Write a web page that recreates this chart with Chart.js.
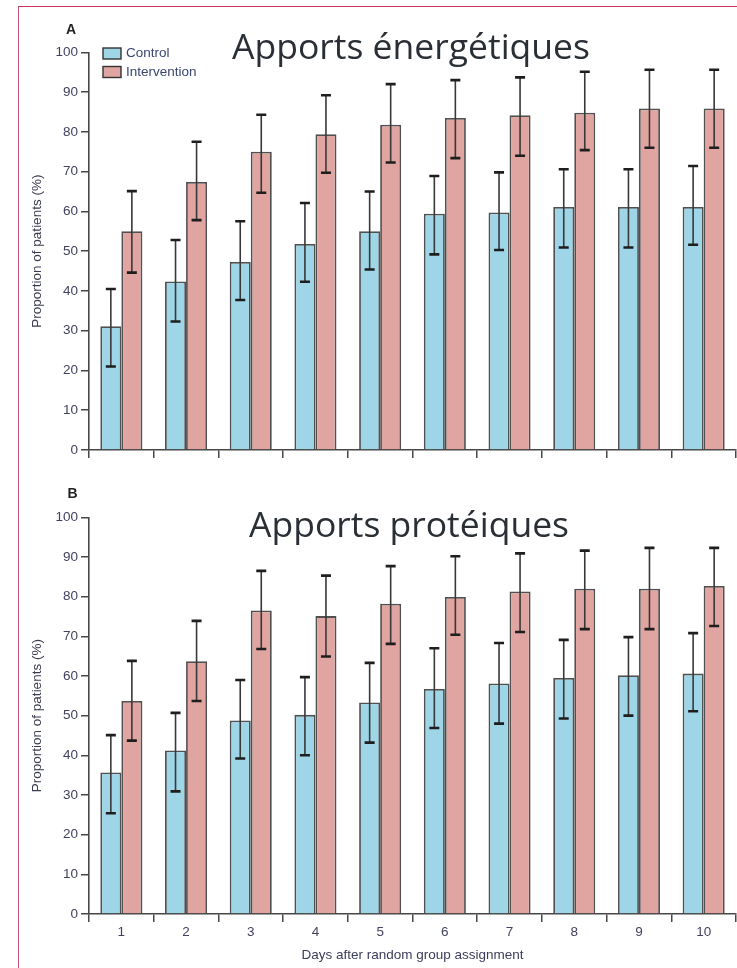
<!DOCTYPE html>
<html><head><meta charset="utf-8">
<script src="https://cdn.jsdelivr.net/npm/chart.js@4.4.1/dist/chart.umd.min.js"></script>
<style>
html,body{margin:0;padding:0;background:#fff;width:737px;height:968px;overflow:hidden;}
#wrap{position:relative;width:737px;height:968px;overflow:hidden;}
#frame{position:absolute;left:18px;top:6px;width:800px;height:1000px;border-top:1.5px solid #d0305c;border-left:1.5px solid #c9507c;}
canvas{position:absolute;left:0;}
#ca{top:0;}
#cb{top:470px;}
</style></head><body>
<div id="wrap">
<div id="frame"></div>
<canvas id="ca" width="737" height="470"></canvas>
<canvas id="cb" width="737" height="498"></canvas>
</div>
<script>
// ---- data ----
const days = ['1','2','3','4','5','6','7','8','9','10'];
const seriesNames = ['Control','Intervention'];
const yTicks = [0,10,20,30,40,50,60,70,80,90,100];

const energyControl   = [31.1, 42.4, 47.3, 51.8, 55.0, 59.4, 59.7, 61.1, 61.1, 61.1];
const energyControlHi = [40.5, 52.8, 57.5, 62.1, 65.0, 68.9, 69.8, 70.6, 70.6, 71.4];
const energyControlLo = [21.0, 32.3, 37.7, 42.3, 45.4, 49.2, 50.3, 50.9, 50.9, 51.6];
const energyInterv    = [55.0, 67.4, 75.0, 79.4, 81.8, 83.5, 84.2, 84.8, 85.9, 85.9];
const energyIntervHi  = [65.1, 77.5, 84.3, 89.2, 92.0, 93.0, 93.7, 95.1, 95.6, 95.6];
const energyIntervLo  = [44.6, 57.8, 64.7, 69.7, 72.3, 73.4, 74.0, 75.4, 76.0, 76.0];

const proteinControl   = [35.7, 41.2, 48.8, 50.2, 53.3, 56.7, 58.1, 59.5, 60.2, 60.6];
const proteinControlHi = [45.1, 50.7, 59.0, 59.7, 63.3, 67.0, 68.3, 69.1, 69.8, 70.8];
const proteinControlLo = [25.4, 30.9, 39.2, 40.0, 43.2, 46.9, 48.0, 49.3, 50.0, 51.1];
const proteinInterv    = [53.7, 63.7, 76.5, 75.1, 78.2, 79.9, 81.3, 82.0, 82.0, 82.7];
const proteinIntervHi  = [63.8, 73.9, 86.5, 85.3, 87.7, 90.2, 90.9, 91.6, 92.3, 92.3];
const proteinIntervLo  = [43.7, 53.7, 66.8, 64.9, 68.1, 70.4, 71.1, 71.8, 71.8, 72.6];

const titleA = 'Apports énergétiques';
const titleB = 'Apports protéiques';
const yTitle = 'Proportion of patients (%)';
const xTitle = 'Days after random group assignment';

// ---- styles ----
const C_CONTROL = '#9ed6e8';
const C_INTERV = '#e0a5a0';
const C_BORDER = '#505050';
const C_AXIS = '#474747';
const C_TICK = '#424260';
const FONT = '"Liberation Sans", Arial, sans-serif';

const errorBars = {
  id: 'errorBars',
  afterDatasetsDraw(chart) {
    const ctx = chart.ctx, ys = chart.scales.y;
    chart.data.datasets.forEach((ds, di) => {
      const meta = chart.getDatasetMeta(di);
      meta.data.forEach((bar, i) => {
        const x = bar.x;
        const yHi = ys.getPixelForValue(ds.errHi[i]);
        const yLo = ys.getPixelForValue(ds.errLo[i]);
        ctx.save();
        ctx.strokeStyle = '#383838'; ctx.lineWidth = 1.6;
        ctx.beginPath(); ctx.moveTo(x, yHi); ctx.lineTo(x, yLo); ctx.stroke();
        ctx.strokeStyle = '#1e1e1e'; ctx.lineWidth = 2.6;
        ctx.beginPath();
        ctx.moveTo(x - 5, yHi); ctx.lineTo(x + 5, yHi);
        ctx.moveTo(x - 5, yLo); ctx.lineTo(x + 5, yLo);
        ctx.stroke();
        ctx.restore();
      });
    });
  }
};

const decorations = {
  id: 'decorations',
  afterDraw(chart, args, opts) {
    const ctx = chart.ctx;
    ctx.save();
    ctx.fillStyle = '#2a2f36';
    ctx.font = '35.5px "Open Sans", "Noto Sans", sans-serif';
    ctx.textAlign = 'center'; ctx.textBaseline = 'alphabetic';
    ctx.fillText(opts.title, opts.titleX, opts.titleY);
    ctx.fillStyle = '#222';
    ctx.font = 'bold 14px ' + FONT;
    ctx.textAlign = 'left';
    ctx.fillText(opts.letter, opts.letterX, opts.letterY);
    if (opts.legend) {
      chart.data.datasets.forEach((ds, i) => {
        const y = 48 + i * 18.5;
        ctx.fillStyle = ds.backgroundColor;
        ctx.fillRect(103, y, 18, 11);
        ctx.strokeStyle = '#333'; ctx.lineWidth = 1.4;
        ctx.strokeRect(103, y, 18, 11);
        ctx.fillStyle = '#3a4670';
        ctx.font = '13.5px ' + FONT;
        ctx.textBaseline = 'middle';
        ctx.fillText(ds.label, 126, y + 5.5);
      });
    }
    ctx.restore();
  }
};

function makeChart(id, cfg) {
  return new Chart(document.getElementById(id), {
    type: 'bar',
    data: {
      labels: days,
      datasets: [
        { label: seriesNames[0], data: cfg.control, errHi: cfg.controlHi, errLo: cfg.controlLo,
          backgroundColor: C_CONTROL, borderColor: C_BORDER, borderWidth: 1.8,
          categoryPercentage: 0.65, barPercentage: 1.0 },
        { label: seriesNames[1], data: cfg.interv, errHi: cfg.intervHi, errLo: cfg.intervLo,
          backgroundColor: C_INTERV, borderColor: C_BORDER, borderWidth: 1.8,
          categoryPercentage: 0.65, barPercentage: 1.0 }
      ]
    },
    options: {
      responsive: false,
      animation: false,
      layout: { padding: { top: cfg.padTop, right: 1, left: 0, bottom: 0 } },
      plugins: {
        legend: { display: false },
        tooltip: { enabled: false },
        decorations: cfg.deco
      },
      scales: {
        x: {
          offset: true,
          grid: { display: true, offset: true, drawOnChartArea: false, drawTicks: true, tickLength: 8, color: C_AXIS, lineWidth: 1.5 },
          border: { display: true, color: C_AXIS, width: 1.6 },
          ticks: { display: cfg.showX, color: C_TICK, font: { family: FONT, size: 13.5 }, padding: 2, maxRotation: 0, autoSkip: false },
          title: { display: cfg.showX, text: xTitle, color: '#3a3c5a', font: { family: FONT, size: 13.5 }, padding: { top: 4, bottom: 5 } },
          afterFit: s => { s.height = cfg.xHeight; }
        },
        y: {
          min: 0, max: 100,
          afterBuildTicks: s => { s.ticks = yTicks.map(v => ({ value: v })); },
          grid: { display: true, drawOnChartArea: false, drawTicks: true, tickLength: 8, color: C_AXIS, lineWidth: 1.5 },
          border: { display: true, color: C_AXIS, width: 1.6 },
          ticks: { color: C_TICK, font: { family: FONT, size: 13.5 }, padding: 3 },
          title: { display: true, text: yTitle, color: '#3a3a52', font: { family: FONT, size: 13.5 }, padding: { top: 29.4, bottom: 0 } },
          afterFit: s => { s.width = 89; }
        }
      }
    },
    plugins: [errorBars, decorations]
  });
}

makeChart('ca', {
  control: energyControl, controlHi: energyControlHi, controlLo: energyControlLo,
  interv: energyInterv, intervHi: energyIntervHi, intervLo: energyIntervLo,
  padTop: 52.3, xHeight: 20, showX: false,
  deco: { title: titleA, titleX: 411, titleY: 59.3, letter: 'A', letterX: 66, letterY: 34, legend: true }
});
makeChart('cb', {
  control: proteinControl, controlHi: proteinControlHi, controlLo: proteinControlLo,
  interv: proteinInterv, intervHi: proteinIntervHi, intervLo: proteinIntervLo,
  padTop: 47.3, xHeight: 54, showX: true,
  deco: { title: titleB, titleX: 409, titleY: 536.7 - 470, letter: 'B', letterX: 67.5, letterY: 498 - 470, legend: false }
});
</script>
</body></html>
